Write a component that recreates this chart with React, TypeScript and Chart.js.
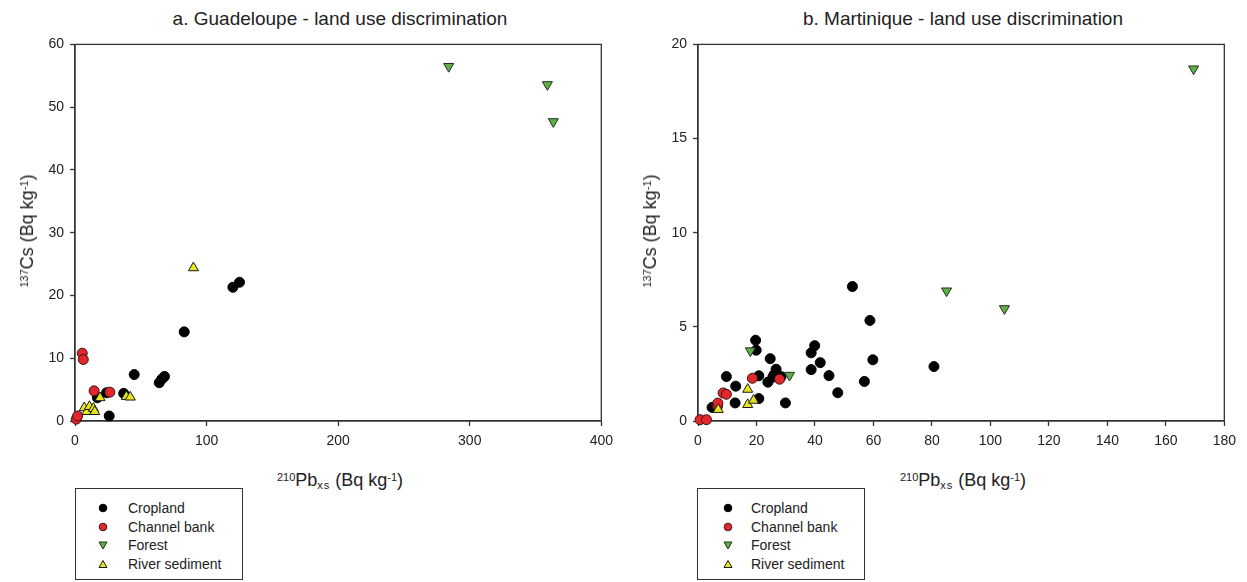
import { useEffect, useRef } from 'react'
import { Chart, registerables } from 'chart.js'

Chart.register(...registerables)

// a. Guadeloupe (210Pb xs vs 137Cs, Bq/kg)
const guaCroplandX = [17, 24, 26, 37, 45, 64, 66, 68, 83, 120, 125]
const guaCroplandY = [3.7, 4.5, 0.8, 4.4, 7.4, 6.1, 6.7, 7.1, 14.2, 21.3, 22.1]
const guaChannelX = [1, 2, 5.5, 6.3, 14.5, 26.5]
const guaChannelY = [0.3, 0.8, 10.8, 9.8, 4.8, 4.6]
const guaForestX = [284, 359, 363.5]
const guaForestY = [56.5, 53.6, 47.7]
const guaRiverX = [7, 9, 11, 14, 15, 19, 39, 42, 90]
const guaRiverY = [2.1, 1.5, 2.3, 2.0, 1.5, 3.7, 3.9, 3.8, 24.4]

// b. Martinique
const marCroplandX = [4.8, 9.7, 12.7, 12.9, 19.7, 19.9, 20.8, 20.8, 23.9, 24.7, 25.6, 26.0, 26.7, 28.4, 29.9, 38.7, 38.7, 39.9, 41.8, 44.8, 47.8, 52.8, 56.9, 58.8, 59.8, 80.7]
const marCroplandY = [0.72, 2.36, 0.96, 1.85, 4.29, 3.76, 2.4, 1.19, 2.06, 3.31, 2.33, 2.45, 2.75, 2.36, 0.96, 3.62, 2.73, 4.0, 3.1, 2.41, 1.5, 7.14, 2.1, 5.34, 3.25, 2.89]
const marChannelX = [0.7, 2.9, 6.7, 6.8, 8.6, 9.7, 18.6, 27.9]
const marChannelY = [0.07, 0.07, 0.79, 0.95, 1.49, 1.42, 2.27, 2.22]
const marForestX = [17.9, 31.3, 85, 104.8, 169.5]
const marForestY = [3.73, 2.43, 6.91, 5.97, 18.7]
const marRiverX = [6.9, 17, 17, 19]
const marRiverY = [0.61, 1.68, 0.87, 1.1]

const seriesNames = ['Cropland', 'Channel bank', 'Forest', 'River sediment']

const FONT = '"Liberation Sans", Arial, Helvetica, sans-serif'
const AXIS = '#333333'

const seriesStyle = [
  { pointStyle: 'circle', radius: 5, rotation: 0, bg: '#000000', border: '#000000' },
  { pointStyle: 'circle', radius: 5, rotation: 0, bg: '#e2262b', border: '#3a1414' },
  { pointStyle: 'triangle', radius: 5.8, rotation: 180, bg: '#5fae4a', border: '#22301c' },
  { pointStyle: 'triangle', radius: 5.8, rotation: 0, bg: '#e6e61c', border: '#1a1a1a' },
]

const toPoints = (xs: number[], ys: number[]) => xs.map((x, i) => ({ x, y: ys[i] }))

// draws the full frame around the plot area
const plotBox = {
  id: 'plotBox',
  beforeDatasetsDraw(chart: any) {
    const { ctx, chartArea } = chart
    ctx.save()
    ctx.strokeStyle = AXIS
    ctx.lineWidth = 1.3
    ctx.strokeRect(chartArea.left, chartArea.top, chartArea.right - chartArea.left, chartArea.bottom - chartArea.top)
    ctx.restore()
  },
}

interface PanelProps {
  left: number
  xs: number[][]
  ys: number[][]
  xMax: number
  xStep: number
  yMax: number
  yStep: number
}

const W = 620
const H = 430

const ScatterPanel = ({ left, xs, ys, xMax, xStep, yMax, yStep }: PanelProps) => {
  const canvasRef = useRef<HTMLCanvasElement>(null)

  useEffect(() => {
    const ctx = canvasRef.current?.getContext('2d')
    if (!ctx) return

    const tickFont = { family: FONT, size: 14 }
    const grid = { drawOnChartArea: false, drawTicks: true, tickLength: 5, tickColor: AXIS, tickWidth: 1.3 }

    const chart = new Chart(ctx, {
      type: 'scatter',
      data: {
        datasets: seriesNames.map((name, i) => ({
          label: name,
          data: toPoints(xs[i], ys[i]),
          pointStyle: seriesStyle[i].pointStyle as any,
          pointRadius: seriesStyle[i].radius,
          pointRotation: seriesStyle[i].rotation,
          backgroundColor: seriesStyle[i].bg,
          borderColor: seriesStyle[i].border,
          pointBorderWidth: 1,
          clip: false as any,
          order: 4 - i,
        })),
      },
      options: {
        animation: false,
        responsive: false,
        maintainAspectRatio: false,
        layout: { padding: { top: 11, right: 15, left: 0, bottom: 0 }, autoPadding: false },
        plugins: { legend: { display: false }, tooltip: { enabled: false } },
        scales: {
          x: {
            type: 'linear',
            min: 0,
            max: xMax,
            ticks: { stepSize: xStep, color: '#222', font: tickFont, padding: 7, maxRotation: 0 },
            grid,
            border: { color: AXIS, width: 1.3 },
            afterFit: (s: any) => { s.height = 39 },
          },
          y: {
            type: 'linear',
            min: 0,
            max: yMax,
            ticks: { stepSize: yStep, color: '#222', font: tickFont, padding: 6 },
            grid,
            border: { color: AXIS, width: 1.3 },
            afterFit: (s: any) => { s.width = 75 },
          },
        },
      },
      plugins: [plotBox],
    })

    return () => chart.destroy()
  }, [xs, ys, xMax, xStep, yMax, yStep])

  return (
    <canvas
      ref={canvasRef}
      width={W}
      height={H}
      style={{ position: 'absolute', left, top: 30, width: W, height: H }}
    />
  )
}

const sup = { fontSize: 11, verticalAlign: 'top', position: 'relative' as const, top: -3 }
const sub = { fontSize: 11, verticalAlign: 'bottom', position: 'relative' as const, top: 5, letterSpacing: 1 }

const XTitle = ({ cx }: { cx: number }) => (
  <div style={{ position: 'absolute', left: cx, top: 480, transform: 'translate(-50%, -50%)', fontSize: 18, whiteSpace: 'nowrap', lineHeight: '22px', color: '#222' }}>
    <span style={sup}>210</span>Pb<span style={sub}>xs</span> (Bq kg<span style={sup}>-1</span>)
  </div>
)

const YTitle = ({ cx }: { cx: number }) => (
  <div style={{ position: 'absolute', left: cx, top: 231, transform: 'translate(-50%, -50%) rotate(-90deg)', fontSize: 18, whiteSpace: 'nowrap', lineHeight: '22px', color: '#222' }}>
    <span style={sup}>137</span>Cs (Bq kg<span style={sup}>-1</span>)
  </div>
)

const Marker = ({ i }: { i: number }) => {
  const s = seriesStyle[i]
  let shape
  if (s.pointStyle === 'circle') {
    shape = <circle cx={5} cy={5} r={3.8} fill={s.bg} stroke={s.border} strokeWidth={1} />
  } else if (s.rotation === 180) {
    shape = <polygon points="1,2 9,2 5,9" fill={s.bg} stroke={s.border} strokeWidth={1} />
  } else {
    shape = <polygon points="1,8.5 9,8.5 5,1.5" fill={s.bg} stroke={s.border} strokeWidth={1} />
  }
  return <svg width={10} height={10} style={{ display: 'block' }}>{shape}</svg>
}

const Legend = ({ left, width, markerX, textX }: { left: number; width: number; markerX: number; textX: number }) => (
  <div style={{ position: 'absolute', left, top: 488, width, height: 92, border: '1.3px solid #333', boxSizing: 'border-box' }}>
    {seriesNames.map((name, i) => (
      <div key={name} style={{ position: 'absolute', left: 0, top: 10 + i * 18.5, height: 18, width: '100%' }}>
        <div style={{ position: 'absolute', left: markerX - 5, top: 4 }}>
          <Marker i={i} />
        </div>
        <div style={{ position: 'absolute', left: textX, top: 0, fontSize: 14, lineHeight: '18px', color: '#222', whiteSpace: 'nowrap' }}>
          {name}
        </div>
      </div>
    ))}
  </div>
)

const guaXs = [guaCroplandX, guaChannelX, guaForestX, guaRiverX]
const guaYs = [guaCroplandY, guaChannelY, guaForestY, guaRiverY]
const marXs = [marCroplandX, marChannelX, marForestX, marRiverX]
const marYs = [marCroplandY, marChannelY, marForestY, marRiverY]

const titleStyle = { position: 'absolute' as const, top: 19, transform: 'translate(-50%, -50%)', fontSize: 19, whiteSpace: 'nowrap' as const, color: '#222' }

export default function App() {
  return (
    <div style={{ position: 'absolute', left: 0, top: 0, width: 1247, height: 582, background: '#fff', overflow: 'hidden', fontFamily: FONT }}>
      <div style={{ ...titleStyle, left: 340 }}>a. Guadeloupe - land use discrimination</div>
      <div style={{ ...titleStyle, left: 963 }}>b. Martinique - land use discrimination</div>

      <ScatterPanel left={0} xs={guaXs} ys={guaYs} xMax={400} xStep={100} yMax={60} yStep={10} />
      <ScatterPanel left={623} xs={marXs} ys={marYs} xMax={180} xStep={20} yMax={20} yStep={5} />

      <YTitle cx={27} />
      <YTitle cx={650} />
      <XTitle cx={340} />
      <XTitle cx={963} />

      <Legend left={75} width={168} markerX={27} textX={52} />
      <Legend left={697} width={168} markerX={30} textX={53} />
    </div>
  )
}
